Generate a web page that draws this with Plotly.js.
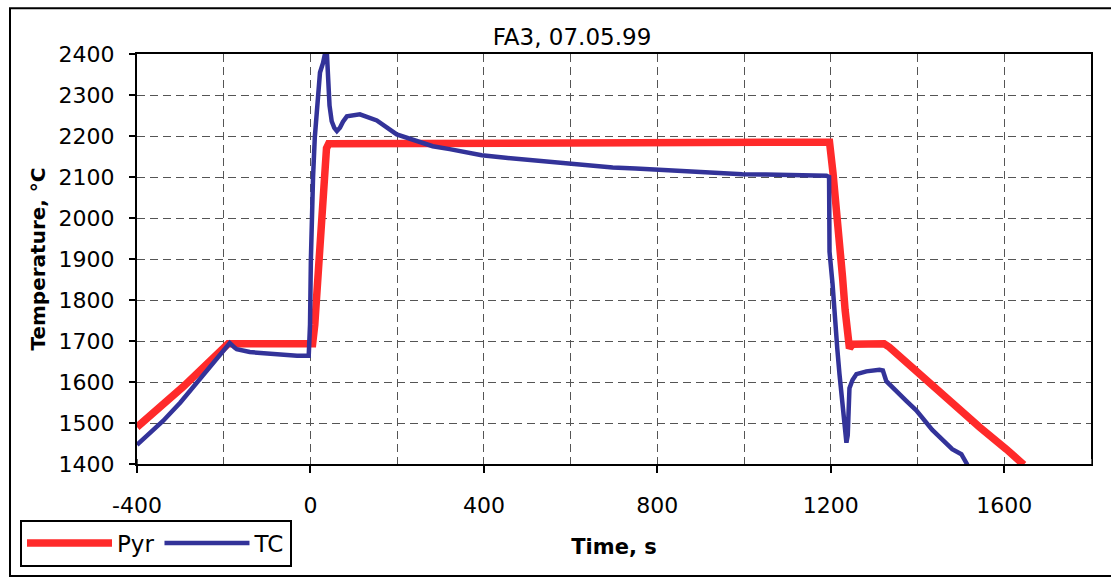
<!DOCTYPE html>
<html>
<head>
<meta charset="utf-8">
<script src="https://cdn.plot.ly/plotly-3.0.1.min.js"></script>
<style>
  html, body { margin: 0; padding: 0; background: #fff; }
  #chart { width: 1111px; height: 579px; }
</style>
</head>
<body>
<div id="chart"></div>
<script>
// Pyrometer reading (time in s, temperature in °C)
const pyrTime = [-400, -294, -190, -100, 0, 5, 10, 15, 20, 24, 28, 32, 37, 42,
  120, 210, 215, 600, 1000, 1197, 1205, 1212, 1220, 1227, 1233, 1238, 1243, 1250,
  1323, 1335, 1374, 1400, 1427, 1489, 1543, 1605, 1645];
const pyrTemp = [1490, 1588, 1693, 1693, 1693, 1693, 1740, 1816, 1900, 1990, 2060, 2124, 2170, 2181,
  2181, 2181, 2185, 2185, 2185, 2185, 2110, 2040, 1934, 1856, 1775, 1728, 1682, 1692,
  1693, 1685, 1648, 1625, 1600, 1540, 1490, 1436, 1398];

// Thermocouple reading (time in s, temperature in °C)
const tcTime = [-400, -370, -340, -300, -260, -220, -186, -175, -170, -140, -87, -31, -4,
  -1, 1, 3, 6, 10, 15, 17, 22, 29, 33, 38, 40, 44, 49, 55, 61, 68, 75, 84, 114,
  153, 199, 245, 282, 321, 395, 450, 500, 550, 598, 650, 697, 750, 798, 850, 897,
  950, 996, 1050, 1100, 1150, 1190, 1196,
  1197, 1204, 1208, 1215, 1220, 1227, 1233, 1236, 1239, 1243, 1250, 1259, 1282, 1312, 1320,
  1328, 1374, 1397, 1434, 1480, 1501, 1515];
const tcTemp = [1447, 1475, 1505, 1550, 1600, 1652, 1695, 1684, 1680, 1673, 1668, 1664, 1664,
  1740, 1900, 2000, 2100, 2196, 2267, 2319, 2355, 2378, 2398, 2400, 2330, 2274, 2236, 2220, 2212, 2220, 2235, 2248, 2253,
  2238, 2204, 2188, 2175, 2168, 2153, 2147, 2142, 2136, 2133, 2127, 2123, 2121, 2118, 2114, 2111,
  2109, 2107, 2106, 2105, 2103, 2103, 2100,
  1918, 1839, 1768, 1680, 1619, 1538, 1480, 1452, 1470, 1585, 1605, 1619, 1626, 1630, 1628,
  1602, 1554, 1531, 1483, 1436, 1424, 1398];

const xTickVals = [-400, 0, 400, 800, 1200, 1600];
const xTickText = ['-400', '0', '400', '800', '1200', '1600'];
const yTickVals = [1400, 1500, 1600, 1700, 1800, 1900, 2000, 2100, 2200, 2300, 2400];

const numFont = { family: 'DejaVu Sans, Arial, sans-serif', size: 22, color: '#000' };

const traces = [
  {
    x: pyrTime, y: pyrTemp, name: 'Pyr', type: 'scatter', mode: 'lines',
    line: { color: '#ff2a2a', width: 7.5 }
  },
  {
    x: tcTime, y: tcTemp, name: 'TC', type: 'scatter', mode: 'lines',
    line: { color: '#333399', width: 4.5 }
  }
];

const gridDash = '8px,5px';

const layout = {
  width: 1111, height: 579,
  margin: { l: 137, r: 20, t: 54, b: 104 },
  paper_bgcolor: '#fff', plot_bgcolor: '#fff',
  showlegend: true,
  title: {
    text: 'FA3, 07.05.99',
    font: { family: 'DejaVu Sans, Arial, sans-serif', size: 23, color: '#000' },
    x: 572 / 1111, xanchor: 'center', xref: 'container',
    y: 1 - 37 / 579, yanchor: 'middle', yref: 'container'
  },
  xaxis: {
    range: [-400, 1800],
    tickmode: 'array', tickvals: xTickVals, ticktext: xTickText,
    ticks: 'outside', ticklen: 7, tickwidth: 2, tickcolor: '#000',
    ticklabelstandoff: 14,
    tickfont: numFont,
    showgrid: true, gridcolor: '#555', gridwidth: 1, griddash: gridDash,
    minor: { dtick: 200, tick0: 0, ticks: 'inside', ticklen: 5, tickcolor: '#555', tickwidth: 1,
             showgrid: true, gridcolor: '#555', gridwidth: 1, griddash: gridDash },
    showline: true, linecolor: '#000', linewidth: 2, mirror: true,
    zeroline: false,
    title: { text: 'Time, s', standoff: 22,
             font: { family: 'DejaVu Sans, Arial, sans-serif', size: 21, color: '#000', weight: 'bold' } }
  },
  yaxis: {
    range: [1400, 2400],
    tickmode: 'array', tickvals: yTickVals,
    ticks: 'outside', ticklen: 6, tickwidth: 1.5, tickcolor: '#000',
    ticklabelstandoff: 10,
    tickfont: numFont,
    showgrid: true, gridcolor: '#555', gridwidth: 1, griddash: gridDash,
    showline: true, linecolor: '#000', linewidth: 2, mirror: true,
    zeroline: false,
    title: { text: 'Temperature, °C', standoff: 8,
             font: { family: 'DejaVu Sans, Arial, sans-serif', size: 20, color: '#000', weight: 'bold' } }
  },
  legend: {
    orientation: 'h',
    x: (20 - 137) / 954, xanchor: 'left',
    y: (475 - 532) / 421, yanchor: 'top',
    bgcolor: '#fff', bordercolor: '#000', borderwidth: 2,
    font: { family: 'DejaVu Sans, Arial, sans-serif', size: 23, color: '#000' },
    itemwidth: 85, tracegroupgap: 0
  },
  shapes: [
    {
      type: 'rect', xref: 'paper', yref: 'paper',
      x0: (10 - 137) / 954, x1: (1120 - 137) / 954,
      y0: (475 - 590) / 421, y1: (475 - 7) / 421,
      line: { color: '#000', width: 2 }, fillcolor: 'rgba(0,0,0,0)', layer: 'below'
    }
  ]
};

Plotly.newPlot('chart', traces, layout, { displayModeBar: false, staticPlot: true });
</script>
</body>
</html>
